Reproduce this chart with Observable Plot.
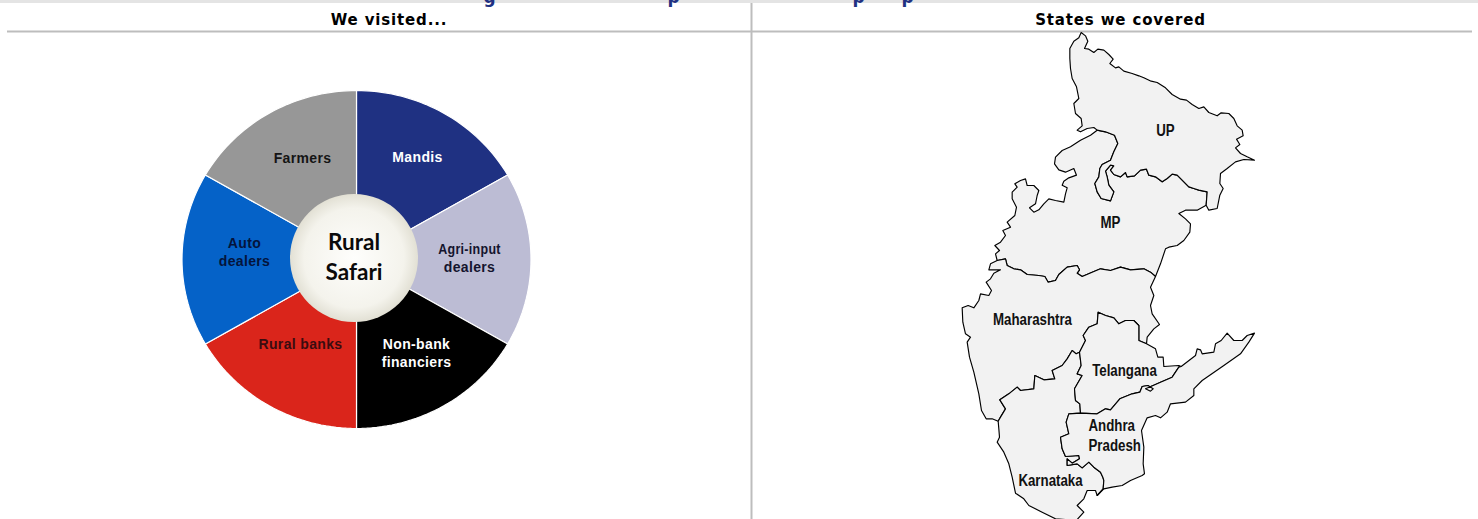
<!DOCTYPE html>
<html>
<head>
<meta charset="utf-8">
<script src="https://cdn.jsdelivr.net/npm/d3@7"></script>
<script src="https://cdn.jsdelivr.net/npm/@observablehq/plot@0.6"></script>
<style>
  html, body { margin: 0; padding: 0; background: #fff; overflow: hidden; }
  svg { display: block; }
  .panel-title text { letter-spacing: 0.85px; }
  .group-label text { letter-spacing: 0.35px; }
</style>
</head>
<body>
<div id="chart"></div>
<script>
// Stakeholder groups on the wheel, clockwise from twelve o'clock.
const groups = ["Mandis", "Agri-input\ndealers", "Non-bank\nfinanciers", "Rural banks", "Auto\ndealers", "Farmers"];
const shares = [1, 1, 1, 1, 1, 1];
const groupColors = ["#1f3182", "#bcbcd4", "#000000", "#da251b", "#0562c8", "#979797"];
const groupInk = ["#ffffff", "#14142e", "#ffffff", "#3a0c10", "#04143c", "#141414"];
const groupLabelX = [417, 469, 416, 300, 244, 302];
const groupLabelY = [157, 258, 353, 344, 252, 158];

const panelTitles = ["We visited...", "States we covered"];
const panelTitleX = [388.5, 1120];

// State outlines in map units: three units to a pixel, origin at the map's corner.
const upNorth = [[392,21],[405,31],[412,47],[402,69],[415,71],[430,81],[442,71],[460,74],[475,87],[488,101],[478,114],[495,127],[505,124],[520,137],[545,144],[565,151],[580,157],[602,167],[620,171],[645,187],[665,207],[690,221],[708,224],[725,237],[745,249],[760,244],[775,261],[800,271],[812,262],[835,264],[850,279],[860,301],[875,314],[878,331],[858,341],[868,357],[855,367],[870,384],[890,394],[912,404],[880,402],[855,409],[830,429],[810,444],[808,474],[818,489],[808,509],[800,549],[775,554]];
const upMpBorder = [[767,539],[770,499],[745,494],[730,489],[715,484],[695,464],[680,449],[665,446],[650,459],[635,469],[615,454],[595,449],[588,431],[570,434],[552,451],[530,454],[525,441],[510,454],[490,447],[480,434],[490,421],[480,419]];
const upLobe = [[465,437],[470,454],[475,479],[490,499],[480,526],[452,519],[440,499],[433,474],[445,454],[448,429],[455,417],[480,404],[490,379],[502,354],[492,329],[465,319],[440,314]];
const upWest = [[430,306],[410,309],[390,319],[380,314],[395,301],[392,279],[375,264],[370,234],[385,219],[378,184],[365,159],[360,129],[358,99],[358,69],[370,47],[385,37]];

const mpBay = [[420,329],[390,344],[360,364],[335,375],[315,395],[312,415],[325,433],[345,440],[370,429],[378,449],[355,457],[340,467],[335,479],[350,487],[345,505],[340,530],[315,525],[295,520],[280,535],[265,553],[250,560],[237,547],[255,535],[260,510],[265,495],[250,480],[230,480],[225,460],[210,465],[193,475],[200,485],[185,500],[185,520],[198,545],[193,570],[170,590],[180,605],[157,615],[165,630],[150,650],[133,660],[147,675],[135,685]];
const mpSouth = [[140,705],[165,700],[170,720],[190,730],[210,733],[230,747],[265,750],[283,753],[293,770],[315,765],[325,747],[350,725],[380,720],[387,733],[380,743],[395,753],[425,740],[450,730],[480,735],[510,725],[540,733],[580,730],[600,740],[615,753]];
const mpEast = [[630,715],[645,670],[655,665],[680,660],[700,645],[718,620],[720,595],[705,580],[685,564],[705,554],[740,554]];

const mhWest = [[120,715],[115,733],[150,733],[130,743],[120,760],[107,770],[123,795],[115,810],[90,805],[85,825],[70,847],[53,840],[35,847],[37,890],[45,925],[60,935],[50,950],[57,995],[70,1040],[85,1105],[93,1155],[107,1180],[125,1180]];
const mhEast = [[600,785],[610,810],[600,840],[605,865],[627,897],[610,910],[590,935]];
const tsNorth = [[588,955],[565,945],[565,900],[550,885],[525,885],[505,895],[490,877],[465,870],[443,860],[440,895],[415,905],[398,930],[405,945],[387,980]];
const mhKaBorder = [[387,980],[377,985],[365,975],[350,1000],[335,1020],[305,1035],[313,1060],[280,1063],[253,1050],[250,1090],[210,1095],[200,1085],[175,1105],[148,1123],[165,1150],[150,1175],[143,1187]];

const kaCoast = [[145,1210],[147,1235],[140,1250],[160,1280],[175,1315],[185,1355],[195,1403],[220,1420],[235,1440],[275,1460],[315,1480],[345,1482],[380,1482],[400,1460],[380,1440],[400,1420],[410,1395],[435,1395]];
const kaApBorder = [[440,1410],[458,1390],[460,1365],[457,1355],[450,1340],[430,1325],[415,1310],[395,1327],[380,1315],[350,1320],[350,1300],[365,1313],[387,1300],[385,1290],[345,1293],[335,1270],[330,1235],[355,1225],[347,1190],[355,1165],[390,1163]];
const kaTsBorder = [[388,1135],[375,1125],[372,1090],[395,1050],[380,1045],[392,1020],[387,980]];
const tsApBorder = [[390,1163],[440,1165],[465,1150],[480,1153],[508,1120],[545,1105],[568,1100],[575,1083],[592,1080],[608,1090],[600,1097],[585,1090],[608,1080],[630,1070],[665,1055],[685,1025],[692,1023]];
const tsEast = [[685,1020],[640,1023],[638,995],[622,995],[615,970]];
const apCoast = [[735,990],[740,970],[750,973],[755,985],[790,980],[795,955],[812,945],[830,923],[850,945],[875,945],[890,930],[912,923],[895,950],[870,985],[820,1020],[755,1065],[730,1090],[730,1110],[705,1130],[660,1135],[650,1160],[630,1177],[615,1170],[590,1177],[573,1215],[580,1265],[578,1315],[582,1345],[575,1350],[540,1365],[515,1380],[485,1385],[460,1390]];

const flip = (segment) => [...segment].reverse();
const states = [
  {name: "Madhya Pradesh", ring: [...mpBay, ...mpSouth, ...mpEast, ...upMpBorder, ...upLobe]},
  {name: "Uttar Pradesh", ring: [...upNorth, ...upMpBorder, ...upLobe, ...upWest]},
  {name: "Maharashtra", ring: [...mpSouth, ...mhEast, ...tsNorth, ...mhKaBorder, ...flip(mhWest)]},
  {name: "Karnataka", ring: [...mhKaBorder, ...kaCoast, ...kaApBorder, ...kaTsBorder]},
  {name: "Telangana", ring: [...tsApBorder, ...tsEast, ...tsNorth, ...flip(kaTsBorder)]},
  {name: "Andhra Pradesh", ring: [...tsApBorder, ...apCoast, ...kaApBorder]}
];

const stateLabels = ["UP", "MP", "Maharashtra", "Telangana", "Karnataka"];
const stateLabelX = [1165, 1110, 1032, 1124, 1050];
const stateLabelY = [130, 222, 319, 370, 480];
const apLabel = "Andhra\nPradesh";

// Fragments of the banner heading that run along the page's top edge.
const bannerGlyphs = ["g", "p", "p", "p"];
const bannerX = [489, 673, 858, 907];

// Placement of the two panels.
const wheel = {cx: 356, cy: 259, rx: 174.5, ry: 169};
const hub = {cx: 353.5, cy: 257.5, r: 64};
const mapOrigin = {x: 950, y: 25};
const toPageX = (u) => mapOrigin.x + u / 3;
const toPageY = (v) => mapOrigin.y + v / 3;

// Wheel slices come from d3.pie over the shares; each becomes a closed outline.
const sliceRows = d3.pie().sort(null)(shares).flatMap((arc, i) => {
  const rows = [{group: groups[i], x: wheel.cx, y: wheel.cy}];
  const steps = 36;
  for (let s = 0; s <= steps; ++s) {
    const a = arc.startAngle + (arc.endAngle - arc.startAngle) * s / steps;
    rows.push({group: groups[i], x: wheel.cx + wheel.rx * Math.sin(a), y: wheel.cy - wheel.ry * Math.cos(a)});
  }
  return rows;
});

const stateRows = states.flatMap((s) => s.ring.map(([u, v]) => ({state: s.name, x: toPageX(u), y: toPageY(v)})));

const hubGradient = () => {
  const g = d3.create("svg:defs");
  const rg = g.append("radialGradient").attr("id", "hub-fill");
  rg.append("stop").attr("offset", "0%").attr("stop-color", "#fefefc");
  rg.append("stop").attr("offset", "78%").attr("stop-color", "#f4f3ec");
  rg.append("stop").attr("offset", "100%").attr("stop-color", "#e2e0d4");
  return g.node();
};

const chart = Plot.plot({
  width: 1478,
  height: 519,
  margin: 0,
  style: {background: "#fff"},
  x: {domain: [0, 1478], range: [0, 1478], axis: null},
  y: {domain: [0, 519], range: [0, 519], axis: null},
  color: {domain: groups, range: groupColors},
  marks: [
    hubGradient,
    // Banner strip and panel rules
    Plot.rect([0], {x1: 0, x2: 1478, y1: 0, y2: 3, fill: "#e4e4e4"}),
    Plot.text(bannerGlyphs, {
      x: (d, i) => bannerX[i], y: 0, text: (d) => d, dy: -3,
      fill: "#1f3182", fontSize: 17, fontWeight: "bold", fontFamily: "'DejaVu Sans', sans-serif"
    }),
    Plot.ruleX([751], {y1: 3, y2: 519, stroke: "#bdbdbd", strokeWidth: 2}),
    Plot.ruleY([31], {x1: 7, x2: 1472, stroke: "#bdbdbd", strokeWidth: 2}),
    Plot.text(panelTitles, {
      className: "panel-title",
      x: (d, i) => panelTitleX[i], y: 20, text: (d) => d,
      fontSize: 15, fontWeight: "bold", fill: "#000", fontFamily: "'DejaVu Sans', sans-serif"
    }),

    // Wheel
    Plot.line(sliceRows, {x: "x", y: "y", z: "group", fill: "group", stroke: "#ffffff", strokeWidth: 1.2, curve: "linear-closed"}),
    Plot.dot([hub], {x: "cx", y: "cy", r: hub.r, fill: "url(#hub-fill)"}),
    Plot.text(["Rural\nSafari"], {
      x: 353.5, y: 254.5, text: (d) => d, lineHeight: 1.35,
      fontSize: 22.5, fontWeight: "bold", fill: "#0a0a0a", fontFamily: "Lato, sans-serif"
    }),
    Plot.text(groups, {
      className: "group-label",
      x: (d, i) => groupLabelX[i], y: (d, i) => groupLabelY[i] - 1, text: (d) => d,
      fill: (d, i) => groupInk[i], lineHeight: 1.3,
      fontSize: 14, fontWeight: "bold", fontFamily: "'Liberation Sans', sans-serif"
    }),

    // State map
    Plot.line(stateRows, {x: "x", y: "y", z: "state", fill: "#f2f2f2", stroke: "#000", strokeWidth: 1.15, curve: "linear-closed"}),
    Plot.text(stateLabels, {
      className: "state-label",
      x: (d, i) => stateLabelX[i], y: (d, i) => stateLabelY[i], text: (d) => d,
      fill: "#111", fontSize: 16, fontWeight: "bold", fontFamily: "'Liberation Sans', sans-serif"
    }),
    Plot.text([apLabel], {
      className: "state-label",
      x: 1088, y: 434, text: (d) => d, textAnchor: "start",
      fill: "#111", lineHeight: 1.27, fontSize: 16, fontWeight: "bold", fontFamily: "'Liberation Sans', sans-serif"
    })
  ]
});

document.getElementById("chart").appendChild(chart);

// Condense a text line's glyphs to a fraction of their natural width.
const squeeze = (line, factor) => {
  line.setAttribute("lengthAdjust", "spacingAndGlyphs");
  line.setAttribute("textLength", line.getComputedTextLength() * factor);
};
chart.querySelectorAll(".state-label text").forEach((node) => {
  const lines = node.querySelectorAll("tspan");
  (lines.length ? [...lines] : [node]).forEach((line) => squeeze(line, 0.83));
});
chart.querySelectorAll(".group-label tspan").forEach((line) => {
  if (line.textContent === "Agri-input") squeeze(line, 0.89);
});
</script>
</body>
</html>
